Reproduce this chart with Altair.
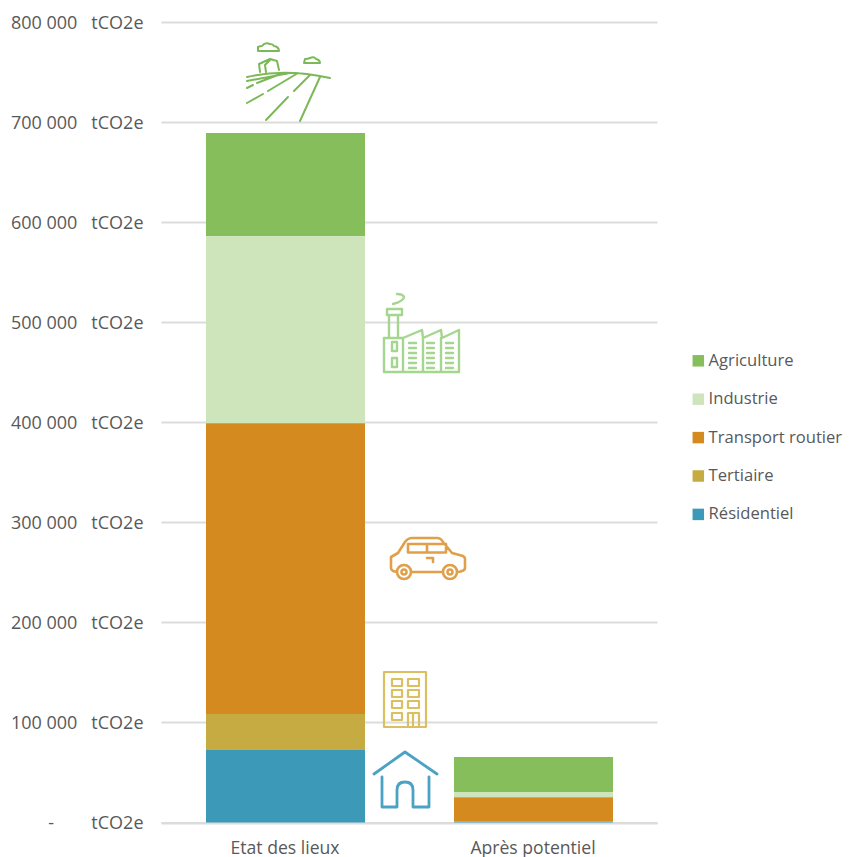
import re
import altair as alt
import pandas as pd

scenarios = ["Etat des lieux", "Après potentiel"]
sectors = ["Agriculture", "Industrie", "Transport routier", "Tertiaire", "Résidentiel"]
colors = ["#86BE5C", "#CEE5BC", "#D58A1F", "#C6AB42", "#3D99B8"]
etat = [103000, 187000, 290500, 36000, 72500]
apres = [35000, 5300, 23700, 500, 1000]
y_ticks = [0, 100000, 200000, 300000, 400000, 500000, 600000, 700000, 800000]

PLOT_X, PLOT_Y = 161, 22
FONT = "Open Sans"
FS = 17.6
TEXT = "#595959"
GRID = "#DCDCDC"

rows = []
for i, s in enumerate(sectors):
    rows.append({"scenario": scenarios[0], "sector": s, "value": etat[i], "rank": len(sectors) - i})
    rows.append({"scenario": scenarios[1], "sector": s, "value": apres[i], "rank": len(sectors) - i})
df = pd.DataFrame(rows)

label_expr = (
    "(datum.value == 0 ? '-\u00a0\u00a0\u00a0\u00a0\u00a0' : "
    "replace(format(datum.value, ','), ',', '\u00a0')) + '\u00a0\u00a0\u00a0tCO2e'"
)

bars = alt.Chart(df).mark_bar(size=159, xOffset=0.5).encode(
    x=alt.X("scenario:N", sort=scenarios, title=None,
            scale=alt.Scale(paddingInner=0, paddingOuter=0),
            axis=alt.Axis(labelAngle=0, ticks=False, domainColor=GRID, domainWidth=2,
                          labelFont=FONT, labelFontSize=FS, labelColor=TEXT, labelPadding=17,
                          grid=False)),
    y=alt.Y("value:Q", stack="zero", title=None,
            scale=alt.Scale(domain=[0, 800000], nice=False),
            axis=alt.Axis(values=y_ticks, labelExpr=label_expr, domain=False, ticks=False,
                          grid=True, gridColor=GRID, gridWidth=2, labelPadding=18, labelOffset=1,
                          labelFont=FONT, labelFontSize=18, labelColor=TEXT)),
    color=alt.Color("sector:N", sort=sectors,
                    scale=alt.Scale(domain=sectors, range=colors),
                    legend=alt.Legend(orient="none", legendX=529, legendY=330.5, title=None,
                                      symbolType="square", symbolSize=132, rowPadding=21.4,
                                      symbolStrokeWidth=0, labelFont=FONT, labelFontSize=16.6,
                                      labelColor=TEXT, labelOffset=2, labelLimit=200)),
    order=alt.Order("rank:Q"),
)


def icon(path, color, width=2):
    nums = [float(n) for n in re.findall(r"-?\d+\.?\d*", path)]
    xs, ys = nums[0::2], nums[1::2]
    cx, cy = (min(xs) + max(xs)) / 2, (min(ys) + max(ys)) / 2

    def shift(m):
        v = float(m.group(0))
        idx = shift.i
        shift.i += 1
        return f"{v - (cx if idx % 2 == 0 else cy):.1f}"

    shift.i = 0
    rel = re.sub(r"-?\d+\.?\d*", shift, path)
    return alt.Chart(pd.DataFrame({"k": [0]})).mark_point(
        shape=rel, size=4, filled=False, opacity=1, stroke=color, strokeWidth=width,
        strokeCap="round", strokeJoin="round",
    ).encode(x=alt.value(cx - PLOT_X), y=alt.value(cy - PLOT_Y))


def rect(x0, y0, x1, y1):
    return f"M{x0},{y0}L{x1},{y0}L{x1},{y1}L{x0},{y1}Z"


def circle(cx, cy, r):
    k = r * 0.552
    return (f"M{cx - r},{cy}C{cx - r},{cy - k} {cx - k},{cy - r} {cx},{cy - r}"
            f"C{cx + k},{cy - r} {cx + r},{cy - k} {cx + r},{cy}"
            f"C{cx + r},{cy + k} {cx + k},{cy + r} {cx},{cy + r}"
            f"C{cx - k},{cy + r} {cx - r},{cy + k} {cx - r},{cy}Z")


farm = (
    "M258,51L258,47Q260,46 262,46Q265,42 270,44Q273,44 274,46Q279,47 279,51Z"
    "M304,63L305,59Q308,59 310,58Q314,56 316,59Q320,60 320,63Z"
    "M247,77Q285,68 330,78"
    "M260,72L259,64L270,59L277,61L279,70"
    "M266,72L265,65L270,60"
    "M247,81L290,73"
    "M247,88L253,85M257,83L283,73"
    "M247,103L263,94M268,91L298,73"
    "M266,120L288,97M294,91L310,75"
    "M300,121L320,77"
)
factory = (
    "M393,304Q404,301 404,297Q403,294 397,294"
    + rect(387, 309, 402, 315)
    + "M389,315L389,338M398,315L398,338"
    + "M384,338L384,372L459,372L459,330L442,338L441,330L423,338L422,330L403,338Z"
    + "M403,338L403,372M423,338L423,372M441,338L441,372"
    + rect(392, 342, 397, 351) + rect(392, 358, 397, 367)
    + "".join(f"M{x},{y}L{x + 7},{y}" for x in (409, 427, 446) for y in (343, 348, 353, 358, 363, 368))
)
car = (
    "M397,572L393,571Q391,570 391,568L391,557L398,553L405,542Q408,538 412,538L437,538Q441,538 443,542"
    "L452,553L463,556Q465,557 465,559L465,568Q465,571 458,572M412,572L442,572"
    + circle(404, 572, 7) + circle(404, 572, 2.5)
    + circle(450, 572, 7) + circle(450, 572, 2.5)
    + rect(408, 544, 446, 552.5) + "M427,544L427,552.5M427,558L433,558L433,562"
)
building = (
    rect(384, 672, 426, 727)
    + "".join(rect(392, y, 402, y + 7) for y in (679, 690, 701, 713))
    + "".join(rect(408, y, 419, y + 7) for y in (679, 690, 701))
    + "M408,727L408,713L419,713L419,727M413,713L413,727"
)
house = (
    "M374,774L405,752L437,774"
    "M382,777L382,807L397,807L397,790Q397,782 405,782Q413,782 413,790L413,807L429,807L429,777"
)

icons = [
    icon(farm, "#7DB858", 2),
    icon(factory, "#A5D68F", 2.4),
    icon(car, "#E0A04A", 2.6),
    icon(building, "#DAC060", 2.2),
    icon(house, "#4BA2C2", 2.8),
]

chart = alt.layer(bars, *icons).properties(
    width=496,
    height=800.5,
    padding={"left": 153, "top": 14, "right": 187, "bottom": 34},
    autosize=alt.AutoSizeParams(type="none"),
    background="white",
).configure_view(stroke=None)

chart.save("out.html", embed_options={"renderer": "svg", "actions": False})
